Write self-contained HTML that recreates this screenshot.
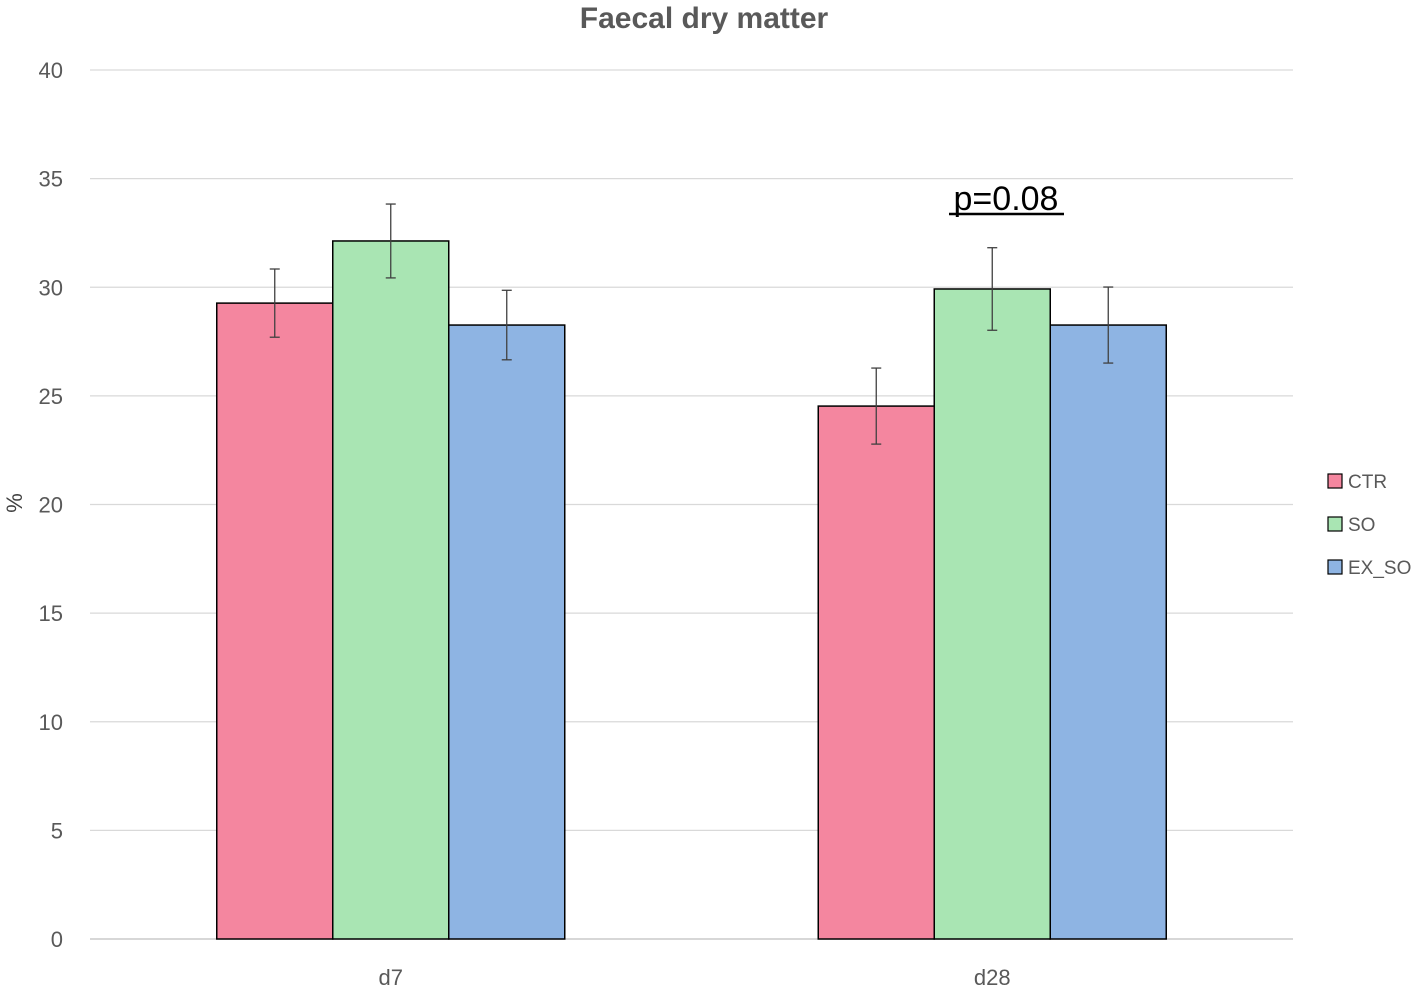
<!DOCTYPE html>
<html><head><meta charset="utf-8"><style>
body{margin:0;background:#fff;}
svg{display:block;font-family:"Liberation Sans",sans-serif;}
</style></head><body>
<svg width="1417" height="988">
<g id="grid"></g>
<g id="yticks"></g>
<g id="bars"></g>
<g id="xticks"></g>
<text x="704" y="28" text-anchor="middle" font-size="30" font-weight="bold" fill="#595959">Faecal dry matter</text>
<text transform="translate(22,503) rotate(-90)" text-anchor="middle" font-size="22" fill="#404040">%</text>
<text x="1006" y="210" text-anchor="middle" font-size="34" fill="#000">p=0.08</text>
<line x1="949" y1="214" x2="1064" y2="214" stroke="#000" stroke-width="2.5"/>
<g id="legend"></g>
</svg>
<script>
const categories=["d7","d28"];
const seriesNames=["CTR","SO","EX_SO"];
const ctrValues=[29.27,24.53];
const soValues=[32.13,29.92];
const exValues=[28.26,28.26];
const ctrErr=[1.57,1.75];
const soErr=[1.7,1.9];
const exErr=[1.6,1.75];
const yTicks=[0,5,10,15,20,25,30,35,40];

const colors=["#F4869F","#A9E5B3","#8EB4E3"];
const NS="http://www.w3.org/2000/svg";
const x0=90,x1=1293,yBase=939,yTop=70,yMax=40;
const y=v=>yBase-(v/yMax)*(yBase-yTop);
const catW=(x1-x0)/categories.length;
const xc=i=>x0+catW*(i+0.5);
const barW=116;
function mk(t,a,p){const e=document.createElementNS(NS,t);for(const k in a)e.setAttribute(k,a[k]);p.appendChild(e);return e;}
const grid=document.getElementById('grid'),yt=document.getElementById('yticks');
yTicks.forEach(t=>{
  const l=mk('line',{x1:x0,x2:x1,y1:y(t),y2:y(t),stroke:t===0?'#bfbfbf':'#d9d9d9','stroke-width':1.3},grid);
  
  
  const tx=mk('text',{x:63,y:y(t)+8,'text-anchor':'end','font-size':22,fill:'#595959'},yt);
  tx.textContent=t;
  
  
});
const bars=document.getElementById('bars');
const vals=[ctrValues,soValues,exValues],errs=[ctrErr,soErr,exErr];
categories.forEach((c,i)=>{
  vals.forEach((s,j)=>{
    const bx=xc(i)-1.5*barW+j*barW;
    const r=mk('rect',{x:bx,y:y(s[i]),width:barW,height:yBase-y(s[i]),fill:colors[j],stroke:'#000','stroke-width':1.5},bars);
    
    
    const cx=bx+barW/2,hi=y(s[i]+errs[j][i]),lo=y(s[i]-errs[j][i]);
    const g=mk('g',{stroke:'#404040','stroke-width':1.3},bars);
    
    
    mk('line',{x1:cx,x2:cx,y1:hi,y2:lo},g);
    mk('line',{x1:cx-5,x2:cx+5,y1:hi,y2:hi},g);
    mk('line',{x1:cx-5,x2:cx+5,y1:lo,y2:lo},g);
  });
  const t=mk('text',{x:xc(i),y:985,'text-anchor':'middle','font-size':22,fill:'#595959'},document.getElementById('xticks'));
  t.textContent=c;
  
  
});
const lg=document.getElementById('legend');
seriesNames.forEach((n,j)=>{
  const yy=481+j*43;
  const r=mk('rect',{x:1328,y:yy-7,width:14,height:14,fill:colors[j],stroke:'#000','stroke-width':1.2},lg);
  
  
  const t=mk('text',{x:1348,y:yy+7,'font-size':19,fill:'#595959'},lg);
  t.textContent=n;
  
  
});
</script>
</body></html>
